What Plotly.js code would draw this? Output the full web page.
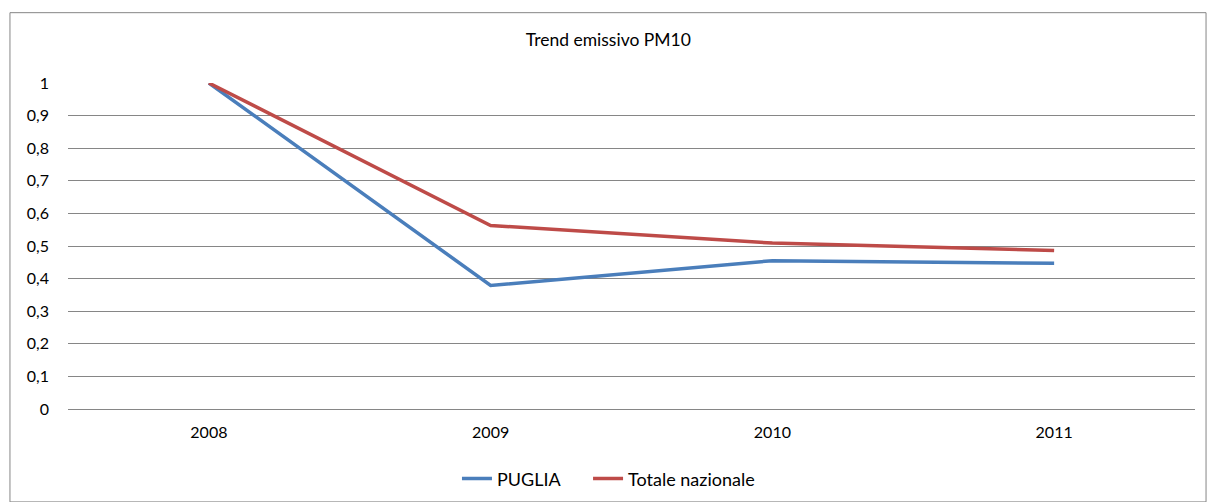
<!DOCTYPE html>
<html><head><meta charset="utf-8">
<script src="https://cdn.plot.ly/plotly-3.0.1.min.js"></script>
<style>html,body{margin:0;padding:0;background:#fff;}#chart{width:1207px;height:502px;}</style>
</head><body><div id="chart"></div>
<script>
const years = ['2008','2009','2010','2011'];
const puglia = [1.0, 0.379, 0.455, 0.447];
const nazionale = [1.0, 0.563, 0.509, 0.486];
const yTicks = [0,0.1,0.2,0.3,0.4,0.5,0.6,0.7,0.8,0.9,1];
const yTickLabels = ['0','0,1','0,2','0,3','0,4','0,5','0,6','0,7','0,8','0,9','1'];

const fam = 'Lato, "Open Sans", sans-serif';
const tickFont = {family: fam, size: 16, color: '#000'};
const legFont = {family: fam, size: 18, color: '#000'};
const traces = [
  {x: years, y: puglia, name: 'PUGLIA', type: 'scatter', mode: 'lines', line: {color: '#4A7EBB', width: 3.5}, legend: 'legend'},
  {x: years, y: nazionale, name: 'Totale nazionale', type: 'scatter', mode: 'lines', line: {color: '#BE4B48', width: 3.5}, legend: 'legend2'}
];
const legBase = {orientation: 'h', xref: 'container', yref: 'container', xanchor: 'left', y: 0.046, yanchor: 'middle', font: legFont, bgcolor: 'rgba(0,0,0,0)'};
const layout = {
  width: 1207, height: 502,
  margin: {l: 68, r: 12, t: 83, b: 93},
  paper_bgcolor: '#fff', plot_bgcolor: '#fff',
  font: tickFont,
  title: {text: 'Trend emissivo PM10', x: 0.504, xanchor: 'center', y: 0.92, yanchor: 'middle', font: {family: fam, size: 17.5, color: '#000'}},
  xaxis: {type: 'category', range: [-0.5, 3.5], showgrid: false, zeroline: false, showline: true, linecolor: '#868686', linewidth: 1, ticks: '', tickfont: tickFont, ticklabelstandoff: 9, fixedrange: true},
  yaxis: {range: [0, 1], tickvals: yTicks, ticktext: yTickLabels, showgrid: true, gridcolor: '#868686', gridwidth: 1, zeroline: false, showline: false, ticks: '', tickfont: tickFont, ticklabelstandoff: 18, automargin: false},
  showlegend: true,
  legend: Object.assign({}, legBase, {x: 0.3786}),
  legend2: Object.assign({}, legBase, {x: 0.4872}),
  shapes: [{type: 'rect', xref: 'paper', yref: 'paper', x0: -0.0515, x1: 1.0098, y0: -0.285, y1: 1.2157, line: {color: '#868686', width: 1}, fillcolor: 'rgba(0,0,0,0)'}]
};
Plotly.newPlot('chart', traces, layout, {displayModeBar: false, staticPlot: true});
</script></body></html>
